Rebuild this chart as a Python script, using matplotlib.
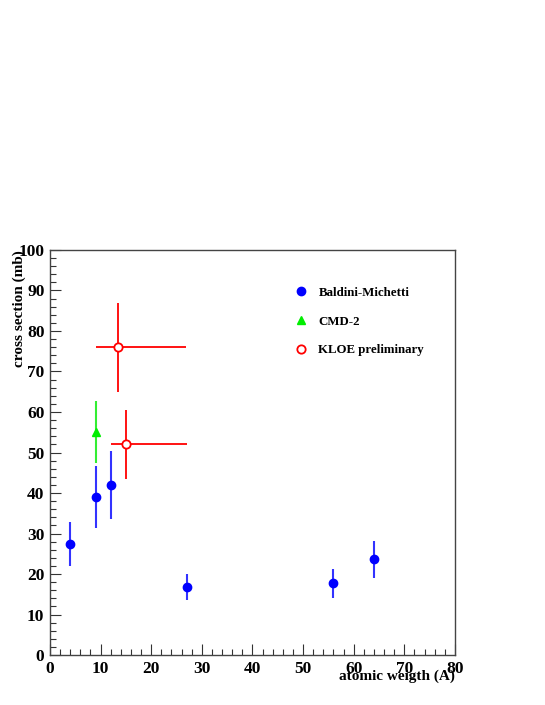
import matplotlib
matplotlib.use("Agg")
import matplotlib.pyplot as plt
from matplotlib.ticker import MultipleLocator

# Baldini-Michetti
bm_a = [4, 9, 12, 27, 56, 64]
bm_xs = [27.4, 39.0, 42.0, 16.8, 17.7, 23.6]
bm_err = [5.5, 7.7, 8.3, 3.3, 3.5, 4.6]

# CMD-2
cmd_a = [9]
cmd_xs = [55.0]
cmd_err = [7.7]

# KLOE preliminary (asymmetric A range)
kloe_a = [13.4, 15.0]
kloe_xs = [76.0, 52.0]
kloe_yerr = [11.0, 8.5]
kloe_xlo = [4.4, 3.0]
kloe_xhi = [13.5, 12.0]

plt.rcParams["font.family"] = ["Liberation Serif", "DejaVu Serif"]
plt.rcParams["font.weight"] = "bold"

fig = plt.figure(figsize=(5.45, 7.05), dpi=100)
ax = fig.add_axes([0.0917, 0.0709, 0.7431, 0.5745])

bm = ax.errorbar(bm_a, bm_xs, yerr=bm_err, fmt="o", color="#0000ff",
                 ecolor="#3333ff", elinewidth=1.5, ms=6, capsize=0)
cmd = ax.errorbar(cmd_a, cmd_xs, yerr=cmd_err, fmt="^", color="#00ee00",
                  ecolor="#33ee33", elinewidth=1.5, ms=6, capsize=0)
kloe = ax.errorbar(kloe_a, kloe_xs, yerr=kloe_yerr, xerr=[kloe_xlo, kloe_xhi],
                   fmt="o", color="#ff0000", mfc="white", mec="#ff0000",
                   mew=1.3, elinewidth=1.3, ms=6, capsize=0, zorder=3)

ax.set_xlim(0, 80)
ax.set_ylim(0, 100)
ax.xaxis.set_major_locator(MultipleLocator(10))
ax.xaxis.set_minor_locator(MultipleLocator(2))
ax.yaxis.set_major_locator(MultipleLocator(10))
ax.yaxis.set_minor_locator(MultipleLocator(2))
ax.tick_params(which="both", direction="in", top=False, right=False,
               labelsize=12.5, width=0.8, color="#333333")
ax.tick_params(which="major", length=8, pad=4)
ax.tick_params(which="minor", length=4)
for lab in ax.get_xticklabels() + ax.get_yticklabels():
    lab.set_fontweight("bold")
for s in ax.spines.values():
    s.set_color("#444444")
    s.set_linewidth(1.0)

ax.set_xlabel("atomic weigth (A)", fontsize=11, fontweight="bold")
ax.xaxis.set_label_coords(1.0, -0.035)
ax.xaxis.label.set_horizontalalignment("right")
ax.set_ylabel("cross section (mb)", fontsize=11, fontweight="bold")
ax.yaxis.set_label_coords(-0.075, 1.0)
ax.yaxis.label.set_verticalalignment("center")
ax.yaxis.label.set_horizontalalignment("right")

ax.legend([bm[0], cmd[0], kloe[0]],
          ["Baldini-Michetti", "CMD-2", "KLOE preliminary"],
          loc="upper left", bbox_to_anchor=(0.575, 0.938), frameon=False,
          labelspacing=1.3, handlelength=1.0, handletextpad=0.85,
          prop={"weight": "bold", "size": 9.3})

fig.savefig("out.png", dpi=100)
